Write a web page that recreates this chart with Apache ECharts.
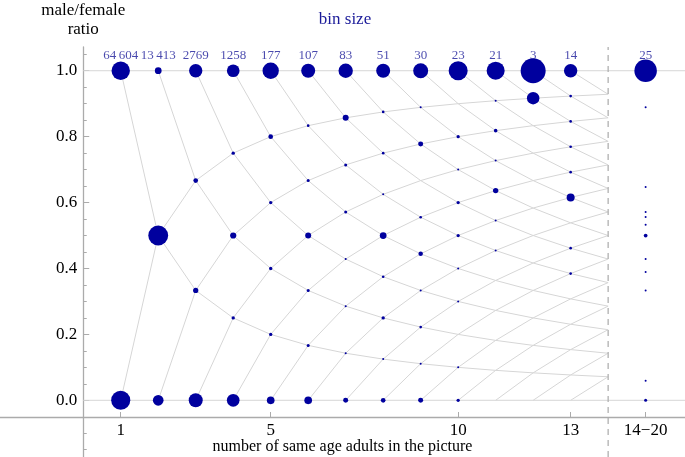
<!DOCTYPE html>
<html><head><meta charset="utf-8">
<script src="https://cdn.jsdelivr.net/npm/echarts@6/dist/echarts.min.js"></script>
<style>html,body{margin:0;padding:0;background:#fff}#c{width:685px;height:457px}</style>
</head><body><div id="c"></div>
<script>
// ---- data ----
const binSizeLabels = ['64\u2009604','13\u2009413','2769','1258','177','107','83','51','30','23','21','3','14','25'];
const groupSizes = [1,2,3,4,5,6,7,8,9,10,11,12,13];
// share of pictures in the bin for each male count, from all male (ratio 1) down to all female (ratio 0)
const sharesByGroup = [
  [0.49, 0.51],
  [0.18, 0.53, 0.285],
  [0.355, 0.125, 0.14, 0.373],
  [0.338, 0.09, 0.165, 0.09, 0.338],
  [0.436, 0.125, 0.09, 0.09, 0.09, 0.205],
  [0.373, 0.07, 0.08, 0.16, 0.08, 0.08, 0.205],
  [0.382, 0.16, 0.08, 0.08, 0.035, 0.053, 0.053, 0.133],
  [0.373, 0.07, 0.07, 0.02, 0.18, 0.07, 0.09, 0.02, 0.124],
  [0.4, 0.033, 0.133, 0, 0.07, 0.12, 0.033, 0.07, 0.033, 0.133],
  [0.507, 0, 0.087, 0.043, 0.087, 0.087, 0.043, 0.043, 0, 0.043, 0.087],
  [0.48, 0.048, 0.095, 0.048, 0.143, 0.048, 0.048, 0, 0, 0, 0, 0],
  [0.667, 0.333, 0, 0, 0, 0, 0, 0, 0, 0, 0, 0, 0],
  [0.357, 0.071, 0.071, 0.071, 0.071, 0.214, 0, 0.071, 0.071, 0, 0, 0, 0, 0]
];
// group sizes 14-20 pooled
const largeGroupRatios = [1, 0.889, 0.647, 0.571, 0.556, 0.533, 0.5, 0.429, 0.389, 0.333, 0.059, 0];
const largeGroupShares = [0.6, 0.04, 0.04, 0.04, 0.04, 0.04, 0.1, 0.04, 0.04, 0.04, 0.04, 0.08];
const xTickValues = [1, 5, 10, 13, 15];
const xTickLabels = ['1', '5', '10', '13', '14\u221220'];
const yTickValues = [0, 0.2, 0.4, 0.6, 0.8, 1.0];

// ---- layout / style ----
const SERIF = '"Liberation Serif", "DejaVu Serif", serif';
const X_MIN = -2.22, X_MAX = 16.05, Y_MIN = -0.172, Y_MAX = 1.072;
const LARGE_X = 15, NET_END = 14;
const BUBBLE_SCALE = 37.5;
const BIN_LABEL_Y = 1.045;
const NAVY = '#00009e';
const AXIS_GRAY = '#ababab';
const PLOT_W = 685;
const Y_AXIS_PX = -X_MIN / (X_MAX - X_MIN) * PLOT_W;

const bubbles = [];
groupSizes.forEach((n, i) => {
  sharesByGroup[i].forEach((s, j) => {
    if (s > 0) bubbles.push([n, (n - j) / n, s]);
  });
});
largeGroupRatios.forEach((r, i) => bubbles.push([LARGE_X, r, largeGroupShares[i]]));

const net = [];
for (let k = 1; k < NET_END; k++) {
  const a = [], b = [];
  for (let n = k; n <= NET_END; n++) { a.push([n, k / n]); b.push([n, (n - k) / n]); }
  net.push({coords: a}, {coords: b});
}
net.push({coords: [[0, 0], [X_MAX, 0]]}, {coords: [[0, 1], [X_MAX, 1]]});
net.push({coords: [[NET_END, Y_MIN], [NET_END, Y_MAX]], lineStyle: {type: [6, 5], color: '#b0b0b0', width: 1.3}});

const yMinor = [];
for (let i = -3; i <= 21; i++) { if (i % 4 !== 0) yMinor.push(i * 0.05); }

const binX = groupSizes.concat([LARGE_X]);

const chart = echarts.init(document.getElementById('c'), null, {renderer: 'canvas'});
chart.setOption({
  animation: false,
  graphic: [{type: 'text', x: 345, y: 20, style: {text: 'bin size', fill: '#1a1a99', font: '17px ' + SERIF, align: 'center', verticalAlign: 'middle'}}],
  grid: {left: 0, right: 0, top: 47, height: 410, outerBoundsMode: 'none', containLabel: false},
  xAxis: {
    type: 'value', min: X_MIN, max: X_MAX, position: 'bottom', offset: -40,
    axisLine: {onZero: false, lineStyle: {color: AXIS_GRAY, width: 1.3}},
    axisTick: {inside: true, length: 5, customValues: xTickValues, lineStyle: {color: AXIS_GRAY}},
    axisLabel: {customValues: xTickValues, formatter: v => xTickLabels[xTickValues.indexOf(v)], color: '#000', fontFamily: SERIF, fontSize: 17, margin: 5},
    splitLine: {show: false},
    name: 'number of same age adults in the picture', nameLocation: 'middle', nameGap: 22,
    nameMoveOverlap: false,
    nameTextStyle: {color: '#000', fontFamily: SERIF, fontSize: 16}
  },
  yAxis: [{
    type: 'value', min: Y_MIN, max: Y_MAX, position: 'left', offset: -Y_AXIS_PX,
    axisLine: {onZero: false, lineStyle: {color: AXIS_GRAY, width: 1.3}},
    axisTick: {inside: true, length: 6, customValues: yTickValues, lineStyle: {color: AXIS_GRAY}},
    axisLabel: {customValues: yTickValues, formatter: v => v.toFixed(1), color: '#000', fontFamily: SERIF, fontSize: 17, margin: 6},
    splitLine: {show: false},
    name: 'male/female\nratio', nameLocation: 'end', nameGap: 8,
    nameTextStyle: {color: '#000', fontFamily: SERIF, fontSize: 17, lineHeight: 19, align: 'center', verticalAlign: 'bottom'}
  }, {
    type: 'value', min: Y_MIN, max: Y_MAX, position: 'left', offset: -Y_AXIS_PX,
    axisLine: {show: false, onZero: false},
    axisTick: {inside: true, length: 3.5, customValues: yMinor, lineStyle: {color: AXIS_GRAY}},
    axisLabel: {show: false}, splitLine: {show: false}
  }],
  series: [{
    type: 'lines', coordinateSystem: 'cartesian2d', polyline: true, silent: true, z: 1,
    lineStyle: {color: '#d6d6d6', width: 1, opacity: 1},
    data: net
  }, {
    type: 'scatter', z: 3, silent: true,
    symbolSize: v => Math.max(v[2] * BUBBLE_SCALE, 2),
    itemStyle: {color: NAVY, opacity: 1},
    data: bubbles
  }, {
    type: 'scatter', z: 4, silent: true, symbolSize: 1,
    itemStyle: {color: 'rgba(0,0,0,0)'},
    label: {show: true, position: 'inside', formatter: p => binSizeLabels[p.dataIndex], color: '#1a1a99', fontFamily: SERIF, fontSize: 13},
    data: binX.map(x => [x, BIN_LABEL_Y])
  }]
});
</script></body></html>
